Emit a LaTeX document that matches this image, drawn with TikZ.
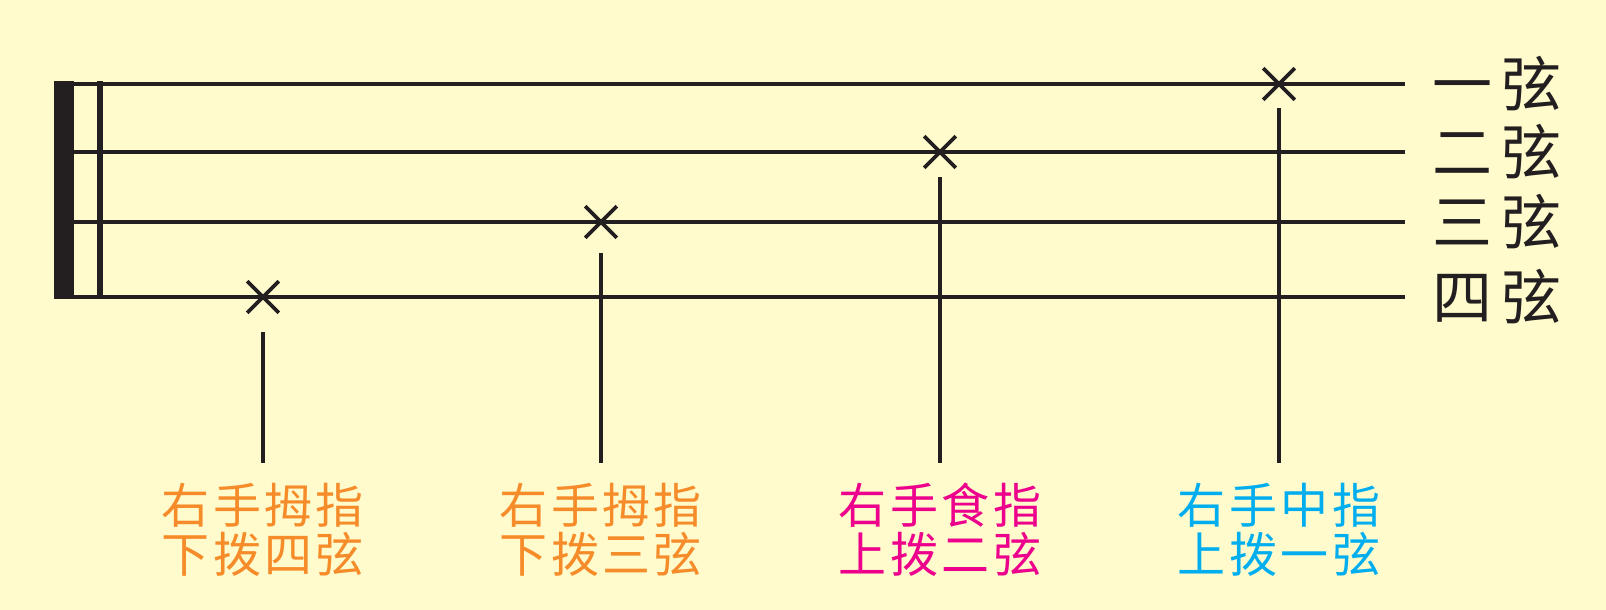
\documentclass[tikz,border=0pt]{standalone}
\usepackage{fontspec}
\newfontfamily\tagfont[LetterSpace=7]{Noto Sans CJK SC}
\newfontfamily\strfont[LetterSpace=15]{Noto Sans CJK SC}
\usetikzlibrary{shapes.misc}
\definecolor{paper}{HTML}{FFFBCC}
\definecolor{ink}{HTML}{231F20}
\definecolor{thumb}{HTML}{F68B29}
\definecolor{index}{HTML}{EC008C}
\definecolor{middle}{HTML}{00AEEF}
\begin{document}
\begin{tikzpicture}[x=0.5pt,y=-0.5pt,
 string/.style={draw=ink,line width=2pt},
 stem/.style={draw=ink,line width=2pt},
 hit/.style={cross out,draw=ink,line width=1.8pt,inner sep=0pt,minimum size=14pt},
 strname/.style={anchor=west,inner sep=0pt,text=ink,font=\strfont\fontsize{30}{30}\selectfont},
 tag/.style={anchor=north,inner sep=0pt,outer ysep=10pt,align=center,
  font=\tagfont\fontsize{24}{24.5}\selectfont}]
 \useasboundingbox (0,0) rectangle (1606,610);
 \fill[paper] (0,0) rectangle (1606,610);
 \fill[ink] (54,81) rectangle (74,299);
 \draw[ink,line width=3pt] (100,81) -- (100,299);
 \foreach \n/\y/\num in {1/84/一,2/152/二,3/222/三,4/297/四}
  {\coordinate (sL\n) at (74,\y);
   \coordinate (sR\n) at (1405,\y);
   \draw[string] (sL\n) -- (sR\n);
   \node[strname] (name\n) at (1432,\y) {\num 弦};
  }
 \foreach \n/\x/\y/\gap/\col/\txt in {4/263/297/35/thumb/{右手拇指\\下拨四弦},
   3/601/222/31/thumb/{右手拇指\\下拨三弦},
   2/940/152/25/index/{右手食指\\上拨二弦},
   1/1279/84/24/middle/{右手中指\\上拨一弦}}
  {\node[hit] (hit\n) at (\x,\y) {};
   \path (hit\n.center) ++(0,\gap) coordinate (top\n);
   \node[tag,text=\col] (tag\n) at (\x,463) {\txt};
   \draw[stem] (top\n) -- (tag\n.north);
  }
\end{tikzpicture}
\end{document}
